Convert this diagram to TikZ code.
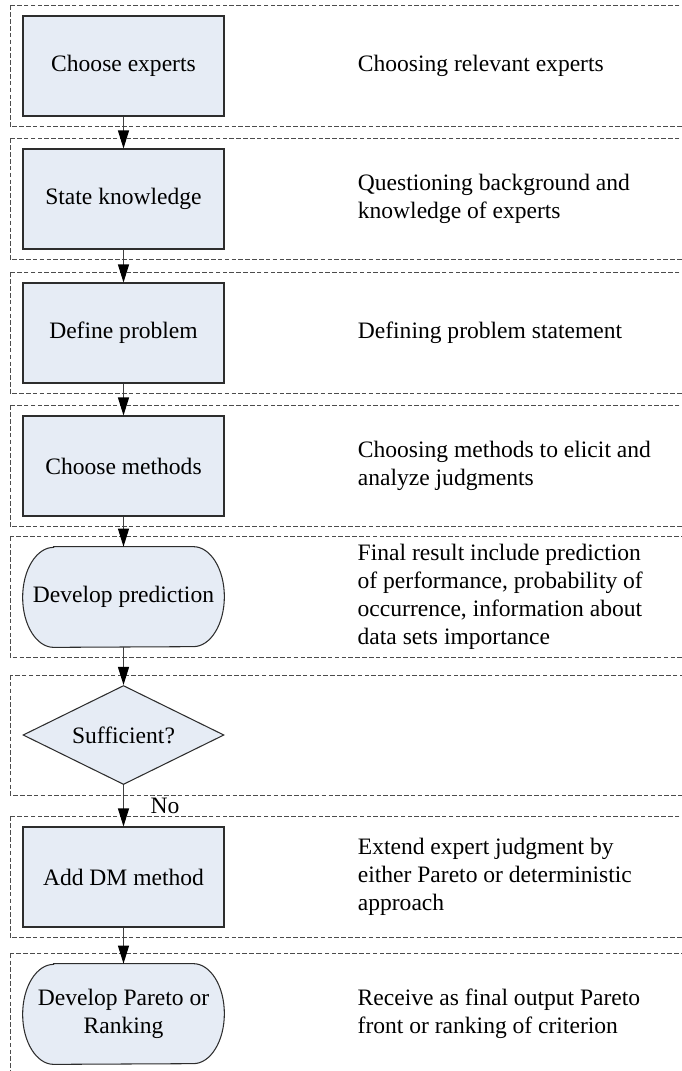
\documentclass[tikz,border=0pt]{standalone}
\usepackage{fontspec}
\setmainfont{Liberation Serif}
\usepackage{tikz}
\usetikzlibrary{arrows.meta,positioning,shapes.geometric,backgrounds}

\definecolor{boxfill}{RGB}{230,236,245}
\definecolor{boxline}{RGB}{45,45,45}

\begin{document}
\begin{tikzpicture}[node distance=2.66cm,
		font=\fontsize{13.4}{15.9}\selectfont,
		outline/.style={draw=boxline, line width=0.6pt, fill=boxfill},
		box/.style={outline, minimum width=4.02cm, minimum height=2cm, align=center},
		term/.style={minimum width=4.02cm, minimum height=2cm, align=center},
		decision/.style={outline, diamond, aspect=2, minimum width=4.02cm, minimum height=1.98cm, inner sep=0pt},
		note/.style={align=left, inner sep=0pt},
		frame/.style={draw=black!70, line width=0.5pt, dash pattern=on 2.6pt off 1.3pt},
		arrow/.style={draw=black!75, line width=0.6pt, -{Triangle[length=3.6mm, width=2.2mm, color=black]}}]
			\useasboundingbox (0,0) rectangle (13.62,-21.42);

			% steps down the left column
			\node[box] (ce) at (2.47,-1.32) {Choose experts};
			\node[box, below of=ce] (sk) {State knowledge};
			\node[box, below of=sk, node distance=2.68cm] (dp) {Define problem};
			\node[box, below of=dp] (cm) {Choose methods};
			\node[term, below of=cm, node distance=2.62cm] (dpr) {Develop prediction};
			\node[decision, below of=dpr, node distance=2.76cm] (suf) {Sufficient?};
			\node[box, below of=suf, node distance=2.84cm] (adm) {Add DM method};
			\node[term, below of=adm, node distance=2.74cm] (dpar) {Develop Pareto or\\Ranking};

			% rounded ends of the two terminal steps
			\begin{scope}[on background layer]
				\draw[outline] ([xshift=6.2mm]dpr.north west) -- ([xshift=-6.2mm]dpr.north east)
					arc[start angle=90, end angle=-90, x radius=6.2mm, y radius=1cm]
					-- ([xshift=6.2mm]dpr.south west)
					arc[start angle=270, end angle=90, x radius=6.2mm, y radius=1cm] -- cycle;
				\draw[outline] ([xshift=6.2mm]dpar.north west) -- ([xshift=-6.2mm]dpar.north east)
					arc[start angle=90, end angle=-90, x radius=6.2mm, y radius=1cm]
					-- ([xshift=6.2mm]dpar.south west)
					arc[start angle=270, end angle=90, x radius=6.2mm, y radius=1cm] -- cycle;
			\end{scope}

			% notes on the right
			\node[note, right=2.66cm of ce] (cen) {Choosing relevant experts};
			\node[note, right=2.66cm of sk] (skn) {Questioning background and\\knowledge of experts};
			\node[note, right=2.66cm of dp] (dpn) {Defining problem statement};
			\node[note, right=2.66cm of cm] (cmn) {Choosing methods to elicit and\\analyze judgments};
			\node[note, right=2.66cm of dpr] (dprn) {Final result include prediction\\of performance, probability of\\occurrence, information about\\data sets importance};
			\node[note, right=2.66cm of adm] (admn) {Extend expert judgment by\\either Pareto or deterministic\\approach};
			\node[note, right=2.66cm of dpar] (dparn) {Receive as final output Pareto\\front or ranking of criterion};

			% dashed bands around each step
			\coordinate (l) at (0.2,0);
			\coordinate (r) at (14,0);
			\draw[frame] ([yshift=2mm]ce.north -| l) rectangle ([yshift=-2mm]ce.south -| r);
			\draw[frame] ([yshift=2mm]sk.north -| l) rectangle ([yshift=-2mm]sk.south -| r);
			\draw[frame] ([yshift=2mm]dp.north -| l) rectangle ([yshift=-2mm]dp.south -| r);
			\draw[frame] ([yshift=2mm]cm.north -| l) rectangle ([yshift=-2mm]cm.south -| r);
			\draw[frame] ([yshift=2mm]dpr.north -| l) rectangle ([yshift=-2mm]dpr.south -| r);
			\draw[frame] ([yshift=2mm]suf.north -| l) rectangle ([yshift=-2mm]suf.south -| r);
			\draw[frame] ([yshift=2mm]adm.north -| l) rectangle ([yshift=-2mm]adm.south -| r);
			\draw[frame] ([yshift=2mm]dpar.north -| l) rectangle ([yshift=-2mm]dpar.south -| r);

			\draw[arrow] (ce)--(sk);
			\draw[arrow] (sk)--(dp);
			\draw[arrow] (dp)--(cm);
			\draw[arrow] (cm)--(dpr);
			\draw[arrow] (dpr)--(suf);
			\draw[arrow] (suf)-- node[right=5.3mm, inner sep=0pt] {No} (adm);
			\draw[arrow] (adm)--(dpar);
		\end{tikzpicture}
\end{document}
